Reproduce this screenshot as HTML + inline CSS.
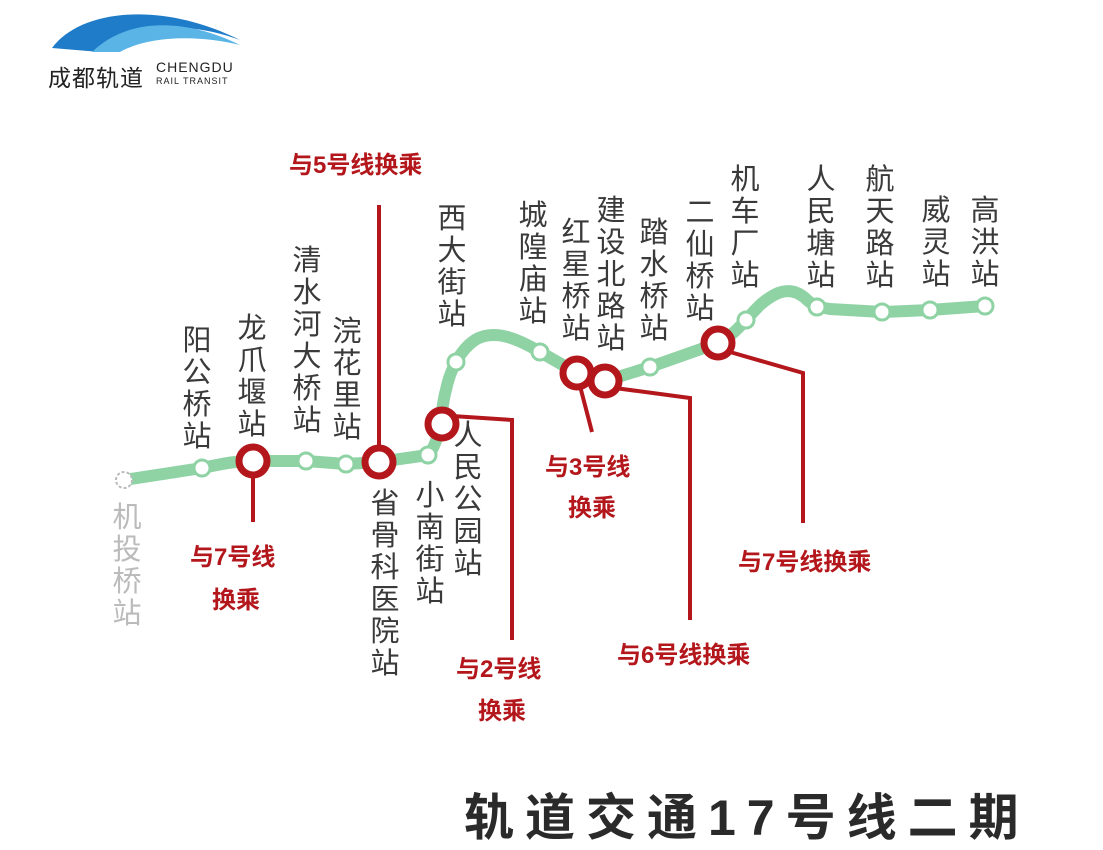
<!DOCTYPE html>
<html><head><meta charset="utf-8"><style>
body{margin:0;width:1103px;height:850px;background:#fff;position:relative;overflow:hidden;font-family:"Liberation Sans","Noto Sans CJK SC",sans-serif}
.v{position:absolute;width:32px;font-size:29px;line-height:32px;text-align:center;color:#3a3a3a;word-break:break-all}
.r{position:absolute;color:#b3171c;font-weight:bold;font-size:24px;white-space:nowrap;line-height:26px}
svg{position:absolute;left:0;top:0}
</style></head><body>
<svg width="1103" height="850">
<path d="M52 48 C80 10 160 0 240 40 C200 25 140 18 100 52 Z" fill="#1f7cc8"/>
<path d="M92 52 C130 15 190 20 240 45 C200 35 150 35 120 52 Z" fill="#5ab5e6"/>
<path d="M124 480 L202 468 C230 462 240 461 253 461 L306 461 L346 464 L379 462 L428 455 C442 440 440 410 446 390 C450 370 460 350 475 340 C495 328 520 340 540 352 L577 373 L605 381 L650 367 L718 343 C735 335 745 320 760 305 C775 292 790 285 805 298 C812 305 817 307 830 309 L882 312 L930 310 L985 306" fill="none" stroke="#8fd3a5" stroke-width="12" stroke-linecap="round" stroke-linejoin="round"/>
<g fill="#fff" stroke="#8fd3a5" stroke-width="3">
<circle cx="202" cy="468" r="8"/><circle cx="306" cy="461" r="8"/><circle cx="346" cy="464" r="8"/><circle cx="428" cy="455" r="8"/><circle cx="456" cy="362" r="8"/><circle cx="540" cy="352" r="8"/><circle cx="650" cy="367" r="8"/><circle cx="746" cy="320" r="8"/><circle cx="817" cy="307" r="8"/><circle cx="882" cy="312" r="8"/><circle cx="930" cy="310" r="8"/><circle cx="985" cy="306" r="8"/>
</g>
<circle cx="124" cy="480" r="8" fill="#fff" stroke="#bbb" stroke-width="2" stroke-dasharray="3 2"/>
<g fill="none" stroke="#b3171c" stroke-width="4">
<line x1="253" y1="475" x2="253" y2="522"/>
<line x1="379" y1="205" x2="379" y2="448"/>
<polyline points="452,416 512,420 512,640"/>
<line x1="580" y1="386" x2="592" y2="432"/>
<polyline points="615,388 690,398 690,620"/>
<polyline points="730,352 803,373 803,523"/>
</g>
<g fill="#fff" stroke="#b3171c" stroke-width="7">
<circle cx="253" cy="461" r="14"/><circle cx="379" cy="462" r="14"/><circle cx="442" cy="424" r="14"/><circle cx="577" cy="373" r="14"/><circle cx="605" cy="381" r="14"/><circle cx="718" cy="343" r="14"/>
</g>
</svg>
<div style="position:absolute;left:48px;top:59px;font-size:23px;color:#222;letter-spacing:1px">成都轨道</div>
<div style="position:absolute;left:156px;top:61px;font-size:14px;color:#222;letter-spacing:1px;line-height:12px">CHENGDU<br><span style="font-size:9px">RAIL TRANSIT</span></div>

<div class="v" style="left:181px;top:325px">阳公桥站</div>
<div class="v" style="left:236px;top:313px">龙爪堰站</div>
<div class="v" style="left:291px;top:245px">清水河大桥站</div>
<div class="v" style="left:331px;top:316px">浣花里站</div>
<div class="v" style="left:436px;top:203px">西大街站</div>
<div class="v" style="left:517px;top:200px">城隍庙站</div>
<div class="v" style="left:560px;top:217px">红星桥站</div>
<div class="v" style="left:595px;top:195px">建设北路站</div>
<div class="v" style="left:638px;top:217px">踏水桥站</div>
<div class="v" style="left:684px;top:197px">二仙桥站</div>
<div class="v" style="left:729px;top:164px">机车厂站</div>
<div class="v" style="left:805px;top:164px">人民塘站</div>
<div class="v" style="left:864px;top:164px">航天路站</div>
<div class="v" style="left:920px;top:195px">威灵站</div>
<div class="v" style="left:969px;top:195px">高洪站</div>
<div class="v" style="left:111px;top:502px;color:#bbb">机投桥站</div>
<div class="v" style="left:369px;top:488px">省骨科医院站</div>
<div class="v" style="left:414px;top:480px">小南街站</div>
<div class="v" style="left:452px;top:420px">人民公园站</div>

<div class="r" style="left:289px;top:153px">与5号线换乘</div>
<div class="r" style="left:190px;top:545px">与7号线</div>
<div class="r" style="left:212px;top:588px">换乘</div>
<div class="r" style="left:545px;top:455px">与3号线</div>
<div class="r" style="left:568px;top:496px">换乘</div>
<div class="r" style="left:738px;top:550px">与7号线换乘</div>
<div class="r" style="left:617px;top:643px">与6号线换乘</div>
<div class="r" style="left:456px;top:657px">与2号线</div>
<div class="r" style="left:478px;top:699px">换乘</div>

<div style="position:absolute;left:464px;top:790px;font-size:50px;font-weight:bold;color:#2a2a2a;letter-spacing:11px;line-height:56px;white-space:nowrap">轨道交通17号线二期</div>
</body></html>
